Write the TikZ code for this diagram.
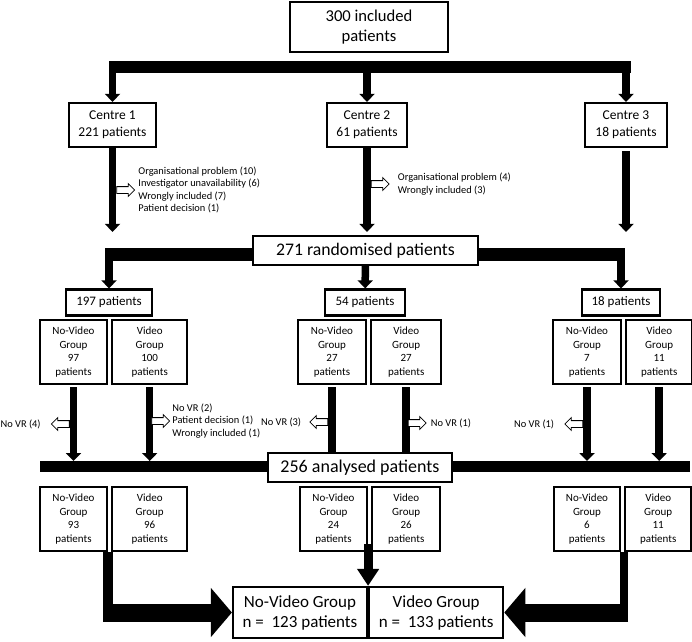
\documentclass[tikz,border=0pt]{standalone}
\usepackage{fontspec}
\setmainfont{Carlito}
\usetikzlibrary{arrows.meta,positioning,shapes.arrows}
\tikzset{
flow box/.style={
  draw=black,
  line width=2.2pt,
  fill=white,
  align=center,
  inner sep=2pt
},
centre box/.style={flow box, minimum height=44pt, font=\fontsize{13.5}{17}\selectfont},
count box/.style={flow box, minimum height=26pt, font=\fontsize{13}{15}\selectfont},
group box/.style={flow box, minimum width=67pt, minimum height=64pt, inner sep=1pt, font=\fontsize{11}{13.5}\selectfont},
big box/.style={flow box, minimum height=29pt, font=\fontsize{17.7}{20}\selectfont},
total box/.style={flow box, minimum width=134pt, minimum height=51pt, font=\fontsize{17}{20}\selectfont},
black bar/.style={fill=black, inner sep=0pt, outer sep=0pt},
fig flow/.style={draw=black, line width=7.5pt, -{Triangle[length=8pt,width=15pt]}},
fig stem/.style={draw=black, line width=7.5pt},
drop arrow/.style={
  single arrow,
  draw=black,
  fill=white,
  line width=0.8pt,
  minimum height=18pt,
  single arrow head extend=3pt,
  inner sep=3pt
},
drop label/.style={font=\fontsize{10.4}{12.5}\selectfont, align=left, inner sep=0pt},
merge flow/.style={draw=black, line width=18pt, -{Triangle[length=21pt,width=48pt]}}
}

\begin{document}
\begin{tikzpicture}[
x=1pt, y=1pt,
node distance=3pt,
]
\useasboundingbox (0,0) rectangle (692,641);
% inclusion and centres
\node[flow box, minimum width=158pt, minimum height=50pt, font=\fontsize{16.6}{20}\selectfont] (incl) at (369,614) {300 included\\patients};
\node[black bar, minimum width=522pt, minimum height=12pt] (topbar) at (369.5,574) {};
\node[centre box, minimum width=87pt] (centre1) at (112.5,516) {Centre 1\\221 patients};
\node[centre box, minimum width=80pt] (centre2) at (367,516) {Centre 2\\61 patients};
\node[centre box, minimum width=82pt] (centre3) at (626,516) {Centre 3\\18 patients};
\draw[fig flow] (centre1.north |- topbar.center) -- (centre1.north);
\draw[fig flow] (centre2.north |- topbar.center) -- (centre2.north);
\draw[fig flow] (centre3.north |- topbar.center) -- (centre3.north);

% randomisation
\node[black bar, minimum width=520pt, minimum height=13pt] (randbar) at (365,386.5) {};
\node[big box, minimum width=225pt] (rand) at (365.5,390.5) {271 randomised patients};
\draw[fig flow, shorten >=3pt] (centre1) -- (centre1 |- rand.north);
\draw[fig flow, shorten >=3pt] (centre2) -- (centre2 |- rand.north);
\draw[fig flow, shorten <=3pt, shorten >=3pt] (centre3) -- (centre3 |- rand.north);
\node[drop arrow, anchor=tail] (drop1) at (116.25,451) {};
\node[drop label, right=3pt of drop1] (why1) {Organisational problem (10)\\Investigator unavailability (6)\\Wrongly included (7)\\Patient decision (1)};
\node[drop arrow, anchor=tail] (drop2) at (370.75,457) {};
\node[drop label, right=8pt of drop2] (why2) {Organisational problem (4)\\Wrongly included (3)};

\node[count box, minimum width=86pt] (split1) at (109,338.5) {197 patients};
\node[count box, minimum width=80pt] (split2) at (365,338.5) {54 patients};
\node[count box, minimum width=78pt] (split3) at (621,338.5) {18 patients};
\draw[fig flow] (split1.north |- randbar.center) -- (split1.north);
\draw[fig flow] (rand) -- (split2);
\draw[fig flow] (split3.north |- randbar.center) -- (split3.north);

% allocated groups
\node[group box] (nv1) at (73.5,289) {No-Video\\Group\\97\\patients};
\node[group box, minimum width=75pt, right=of nv1] (v1) {Video\\Group\\100\\patients};
\node[group box, minimum width=68pt] (nv2) at (332,289) {No-Video\\Group\\27\\patients};
\node[group box, minimum width=70pt, right=of nv2] (v2) {Video\\Group\\27\\patients};
\node[group box, minimum width=68pt] (nv3) at (587,289) {No-Video\\Group\\7\\patients};
\node[group box, minimum width=66pt, right=of nv3] (v3) {Video\\Group\\11\\patients};

% analysis
\node[black bar, minimum width=650pt, minimum height=11pt] (anabar) at (365,174.5) {};
\node[big box, minimum width=184pt, font=\fontsize{18}{20}\selectfont] (ana) at (360,173.5) {256 analysed patients};
\draw[fig flow, shorten <=2pt] (nv1) -- (nv1 |- anabar.north);
\draw[fig flow, shorten <=2pt] (v1) -- (v1 |- anabar.north);
\draw[fig stem, shorten <=2pt] (nv2) -- (nv2 |- ana.north);
\draw[fig stem, shorten <=2pt] (v2) -- (v2 |- ana.north);
\draw[fig flow, shorten <=2pt] (nv3) -- (nv3 |- anabar.north);
\draw[fig flow, shorten <=2pt] (v3) -- (v3 |- anabar.north);

\node[drop arrow, shape border rotate=180, anchor=tail] (dropnv1) at (69.75,217) {};
\node[drop label, left=10pt of dropnv1] (whynv1) {No VR (4)};
\node[drop arrow, anchor=tail] (dropv1) at (151.25,220) {};
\node[drop label, right=2pt of dropv1] (whyv1) {No VR (2)\\Patient decision (1)\\Wrongly included (1)};
\node[drop arrow, shape border rotate=180, anchor=tail] (dropnv2) at (328.25,219) {};
\node[drop label, left=8pt of dropnv2] (whynv2) {No VR (3)};
\node[drop arrow, anchor=tail] (dropv2) at (407.75,218) {};
\node[drop label, right=4pt of dropv2] (whyv2) {No VR (1)};
\node[drop arrow, shape border rotate=180, anchor=tail] (dropnv3) at (583.25,217) {};
\node[drop label, left=10pt of dropnv3] (whynv3) {No VR (1)};

% analysed groups
\node[group box] (anv1) at (73.5,122) {No-Video\\Group\\93\\patients};
\node[group box, minimum width=75pt, right=of anv1] (av1) {Video\\Group\\96\\patients};
\node[group box] (anv2) at (333.5,122) {No-Video\\Group\\24\\patients};
\node[group box, minimum width=68pt, right=of anv2] (av2) {Video\\Group\\26\\patients};
\node[group box, minimum width=66pt] (anv3) at (587,122) {No-Video\\Group\\6\\patients};
\node[group box, minimum width=66pt, right=of anv3] (av3) {Video\\Group\\11\\patients};

% totals
\node[total box] (totnv) at (300,28.5) {No-Video Group\\n = \ 123 patients};
\node[total box, right=0pt of totnv] (totv) {Video Group\\n = \ 133 patients};
\draw[fig flow, line width=9pt, -{Triangle[length=17pt,width=21pt]}] ([yshift=8pt]anv2.south east) -- (totnv.north east);
\draw[draw=black, line width=10pt] (anv1.south east) -- ([yshift=-9pt]anv1.south east |- totnv.west);
\draw[merge flow] ([xshift=-5pt]anv1.south east |- totnv.west) -- (totnv.west);
\draw[draw=black, line width=8pt] (av3.south west) -- ([yshift=-9pt]av3.south west |- totv.east);
\draw[merge flow] ([xshift=4pt]av3.south west |- totv.east) -- (totv.east);
\end{tikzpicture}
\end{document}
